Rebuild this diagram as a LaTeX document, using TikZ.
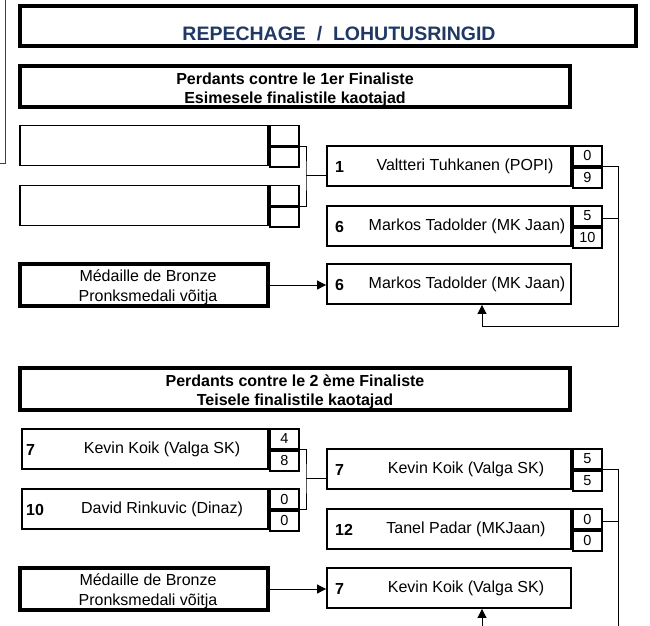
\documentclass[tikz,border=0pt]{standalone}
\usepackage{fontspec}
\setmainfont{Liberation Sans}
\usetikzlibrary{positioning,arrows.meta}

\definecolor{titleblue}{RGB}{31,56,100}

\tikzset{
  thickbox/.style={draw, line width=3.8pt, inner sep=0pt},
  namebox/.style={draw, line width=1.9pt, minimum height=40pt, inner sep=0pt},
  scorecell/.style={draw, line width=1.9pt, minimum width=29pt, minimum height=20pt,
    inner sep=0pt, font=\fontsize{14.5}{15}\selectfont},
  seed/.style={anchor=west, inner sep=0pt, font=\bfseries\fontsize{16}{17}\selectfont},
  player/.style={inner sep=0pt, font=\fontsize{16}{17}\selectfont},
  headline/.style={anchor=base, inner sep=0pt, font=\bfseries\fontsize{16}{17}\selectfont},
  medline/.style={anchor=base, inner sep=0pt, font=\fontsize{16}{17}\selectfont},
  link/.style={line width=1pt},
  arr/.style={line width=1pt, -{Triangle[length=9pt,width=9pt]}}
}

\begin{document}
\begin{tikzpicture}[x=1pt,y=-1pt]
  \useasboundingbox (0,0) rectangle (650,625);

  % fragment of the table on the left
  \draw[line width=1pt, black!75] (5,0) -- (5,163) -- (0,163);

  % title
  \node[thickbox, minimum width=616pt, minimum height=40pt] (title) at (328,26) {};
  \node[anchor=base, inner sep=0pt, font=\bfseries\fontsize{19.5}{20}\selectfont,
    text=titleblue] (titletext) at (339,40) {REPECHAGE~~/~~LOHUTUSRINGID};

  % ---------- first finalist ----------
  \node[thickbox, minimum width=550pt, minimum height=41pt] (head1) at (295,86.5) {};
  \node[headline] (head1a) at (295,84) {Perdants contre le 1er Finaliste};
  \node[headline] (head1b) at (295,103) {Esimesele finalistile kaotajad};

  % empty first round
  \node[namebox, minimum width=248pt] (e1) at (144,145.5) {};
  \node[scorecell, anchor=north west] (e1a) at (e1.north east) {};
  \node[scorecell, anchor=north] (e1b) at (e1a.south) {};
  \node[namebox, minimum width=248pt] (e2) at (144,205.5) {};
  \node[scorecell, anchor=north west] (e2a) at (e2.north east) {};
  \node[scorecell, anchor=north] (e2b) at (e2a.south) {};

  % second round
  \node[namebox, minimum width=244pt] (v1) at (449,166) {};
  \node[seed] (v1seed) at (335,167) {1};
  \node[player] (v1name) at (465,166) {Valtteri Tuhkanen (POPI)};
  \node[scorecell, anchor=north west] (v1a) at (v1.north east) {0};
  \node[scorecell, anchor=north] (v1b) at (v1a.south) {9};

  \node[namebox, minimum width=244pt] (m1) at (449,226) {};
  \node[seed] (m1seed) at (335,227) {6};
  \node[player] (m1name) at (467,226) {Markos Tadolder (MK Jaan)};
  \node[scorecell, anchor=north west] (m1a) at (m1.north east) {5};
  \node[scorecell, anchor=north] (m1b) at (m1a.south) {10};

  % bronze
  \node[thickbox, minimum width=248pt, minimum height=42pt] (b1) at (144,285) {};
  \node[medline] (b1a) at (148,281) {M\'edaille de Bronze};
  \node[medline] (b1b) at (148,301) {Pronksmedali v\~oitja};
  \node[namebox, minimum width=244pt] (r1) at (449,284) {};
  \node[seed] (r1seed) at (335,285) {6};
  \node[player] (r1name) at (467,284) {Markos Tadolder (MK Jaan)};

  % connectors
  \coordinate (j1) at (306,175);
  \draw[link] (e1a.south east) -| (j1) |- (e2a.south east);
  \draw[link] (j1) -- (j1 -| v1.west);
  \coordinate (c1) at (618,326);
  \coordinate (t1) at ([yshift=-2pt]m1a.east);
  \draw[link] (t1) -- (t1 -| c1);
  \draw[arr] (v1a.south east) -| (c1) -| ([xshift=33pt]r1.south);
  \draw[arr] (b1.east) -- (b1.east -| r1.west);

  % ---------- second finalist ----------
  \node[thickbox, minimum width=550pt, minimum height=42pt] (head2) at (295,389) {};
  \node[headline] (head2a) at (295,386) {Perdants contre le 2 \`eme Finaliste};
  \node[headline] (head2b) at (295,405) {Teisele finalistile kaotajad};

  % first round
  \node[namebox, minimum width=246pt] (k1) at (145,449) {};
  \node[seed] (k1seed) at (26,450) {7};
  \node[player] (k1name) at (162,449) {Kevin Koik (Valga SK)};
  \node[scorecell, anchor=north west] (k1a) at (k1.north east) {4};
  \node[scorecell, anchor=north] (k1b) at (k1a.south) {8};

  \node[namebox, minimum width=246pt] (d1) at (145,509) {};
  \node[seed] (d1seed) at (26,510) {10};
  \node[player] (d1name) at (162,509) {David Rinkuvic (Dinaz)};
  \node[scorecell, anchor=north west] (d1a) at (d1.north east) {0};
  \node[scorecell, anchor=north] (d1b) at (d1a.south) {0};

  % second round
  \node[namebox, minimum width=244pt] (k2) at (449,469) {};
  \node[seed] (k2seed) at (335,470) {7};
  \node[player] (k2name) at (466,469) {Kevin Koik (Valga SK)};
  \node[scorecell, anchor=north west] (k2a) at (k2.north east) {5};
  \node[scorecell, anchor=north] (k2b) at (k2a.south) {5};

  \node[namebox, minimum width=244pt] (p2) at (449,529) {};
  \node[seed] (p2seed) at (335,530) {12};
  \node[player] (p2name) at (466,529) {Tanel Padar (MKJaan)};
  \node[scorecell, anchor=north west] (p2a) at (p2.north east) {0};
  \node[scorecell, anchor=north] (p2b) at (p2a.south) {0};

  % bronze
  \node[thickbox, minimum width=248pt, minimum height=42pt] (b2) at (144,589) {};
  \node[medline] (b2a) at (148,585) {M\'edaille de Bronze};
  \node[medline] (b2b) at (148,605) {Pronksmedali v\~oitja};
  \node[namebox, minimum width=244pt] (r2) at (449,588) {};
  \node[seed] (r2seed) at (335,589) {7};
  \node[player] (r2name) at (466,588) {Kevin Koik (Valga SK)};

  % connectors
  \coordinate (j2) at (306,478);
  \draw[link] (k1a.south east) -| (j2) |- (d1a.south east);
  \draw[link] (j2) -- (j2 -| k2.west);
  \coordinate (c2) at (618,630);
  \coordinate (t2) at ([yshift=-2pt]p2a.east);
  \draw[link] (t2) -- (t2 -| c2);
  \draw[arr] (k2a.south east) -| (c2) -| ([xshift=33pt]r2.south);
  \draw[arr] (b2.east) -- (b2.east -| r2.west);
\end{tikzpicture}
\end{document}
